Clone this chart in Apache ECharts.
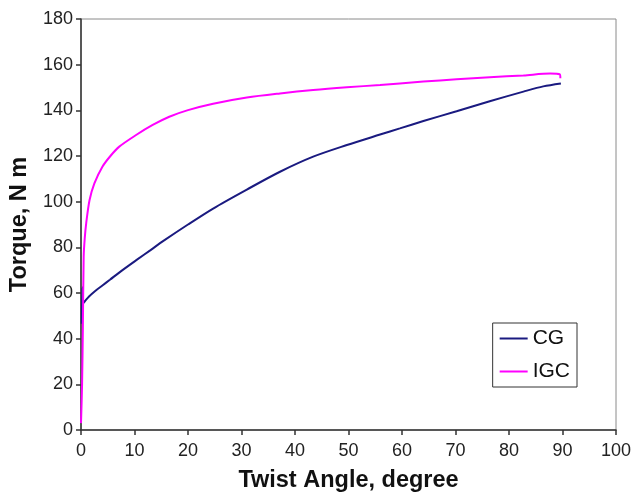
<!DOCTYPE html>
<html>
<head>
<meta charset="utf-8">
<script src="https://cdn.jsdelivr.net/npm/echarts@6/dist/echarts.min.js"></script>
<style>
  html, body { margin: 0; padding: 0; background: #fff; }
  #chart { width: 633px; height: 492px; }
</style>
</head>
<body>
<div id="chart"></div>
<script>
// Twist angle (degree) and torque (N m) samples for each specimen
const cgAngle  = [0.15, 0.25, 0.4, 0.75, 1.5, 2.6, 4.0, 5.4, 7.5, 10.4, 13.0, 15.4, 20.0, 24.7, 31.0, 37.2, 43.4, 49.7, 55.9, 59.6, 64.0, 70.2, 76.4, 82.7, 86.4, 89.7];
const cgTorque = [46.5, 62.5, 55.5, 56.5, 58.5, 60.8, 63.3, 65.8, 69.6, 74.5, 78.8, 82.8, 90.0, 97.0, 105.3, 113.1, 119.7, 124.8, 129.4, 132.1, 135.3, 139.6, 144.0, 148.2, 150.5, 151.8];

const igcAngle  = [0.0, 0.2, 0.35, 0.5, 0.7, 0.97, 1.6, 2.5, 4.0, 5.5, 7.1, 10.3, 13.4, 16.5, 20.0, 24.7, 31.0, 37.2, 43.4, 49.7, 55.9, 59.6, 64.0, 70.2, 76.4, 82.7, 87.7, 89.5, 89.6];
const igcTorque = [3.0, 20.0, 45.0, 75.9, 84.0, 90.5, 100.7, 108.0, 115.3, 120.0, 124.0, 129.2, 133.6, 137.2, 140.1, 142.9, 145.6, 147.4, 148.9, 150.1, 151.1, 151.8, 152.6, 153.6, 154.5, 155.3, 156.1, 155.8, 154.0];

const xTicks = { min: 0, max: 100, interval: 10 };
const yTicks = { min: 0, max: 180, interval: 20 };

const pairs = (xs, ys) => xs.map((x, i) => [x, ys[i]]);

const chart = echarts.init(document.getElementById('chart'), null, { renderer: 'canvas' });
const font = '"Liberation Sans", Arial, sans-serif';

chart.setOption({
  animation: false,
  backgroundColor: '#ffffff',
  grid: {
    left: 81, right: 17, top: 19, bottom: 62,
    outerBoundsMode: 'none',
    containLabel: false,
    show: true, borderColor: '#8a8a8a', borderWidth: 1, backgroundColor: 'transparent'
  },
  legend: {
    orient: 'vertical',
    right: 56, top: 323,
    borderColor: '#333', borderWidth: 1,
    padding: [5, 7, 5, 7],
    itemGap: 12,
    itemWidth: 28, itemHeight: 2,
    icon: 'rect',
    textStyle: { fontFamily: font, fontSize: 21, color: '#111' },
    data: ['CG', 'IGC']
  },
  xAxis: {
    type: 'value',
    min: xTicks.min, max: xTicks.max, interval: xTicks.interval,
    name: 'Twist Angle, degree',
    nameLocation: 'middle', nameGap: 39,
    nameTextStyle: { fontFamily: font, fontSize: 23.5, fontWeight: 'bold', color: '#111' },
    axisLine: { show: true, lineStyle: { color: '#333', width: 1.5 } },
    axisTick: { show: true, length: 5, inside: false, lineStyle: { color: '#333', width: 1.5 } },
    axisLabel: { fontFamily: font, fontSize: 18, color: '#222', margin: 12 },
    splitLine: { show: false }
  },
  yAxis: {
    type: 'value',
    min: yTicks.min, max: yTicks.max, interval: yTicks.interval,
    name: 'Torque, N m',
    nameLocation: 'middle', nameGap: 49,
    nameTextStyle: { fontFamily: font, fontSize: 23.5, fontWeight: 'bold', color: '#111' },
    axisLine: { show: true, lineStyle: { color: '#333', width: 1.5 } },
    axisTick: { show: true, length: 5, inside: false, lineStyle: { color: '#333', width: 1.5 } },
    axisLabel: { fontFamily: font, fontSize: 18, color: '#222', margin: 8 },
    splitLine: { show: false }
  },
  series: [
    {
      name: 'CG', type: 'line', data: pairs(cgAngle, cgTorque),
      showSymbol: false, smooth: 0.3,
      lineStyle: { color: '#1a1a80', width: 2 }, itemStyle: { color: '#1a1a80' }
    },
    {
      name: 'IGC', type: 'line', data: pairs(igcAngle, igcTorque),
      showSymbol: false, smooth: 0.3,
      lineStyle: { color: '#ff00ff', width: 2 }, itemStyle: { color: '#ff00ff' }
    }
  ]
});
</script>
</body>
</html>
